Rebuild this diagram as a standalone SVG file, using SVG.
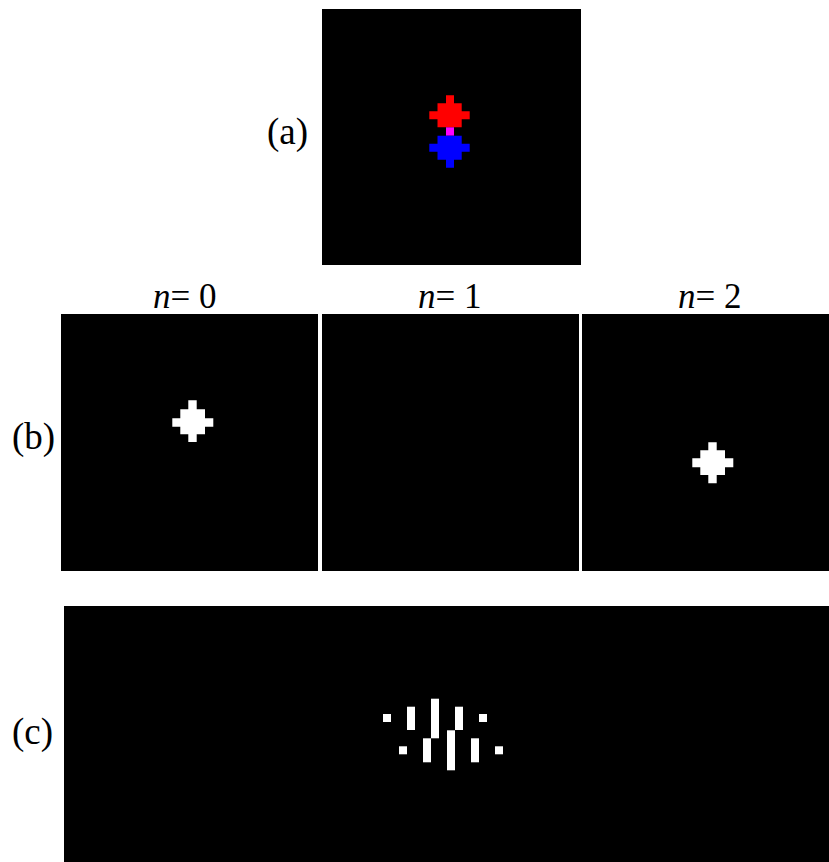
<svg xmlns="http://www.w3.org/2000/svg" width="829" height="862" viewBox="0 0 829 862">
<style>
.panel{fill:#000}
.w{fill:#fff}
.r{fill:#ff0000}
.b{fill:#0000ff}
.m{fill:#ff00ff}
.lbl{font-size:37px;fill:#000}
.ttl{font-size:35px;fill:#000}
</style>
<rect width="829" height="862" fill="#fff"/>
<g id="panel-a">
<rect class="panel" x="322" y="9" width="259" height="256"/>
<path id="red-blob" class="r" d="M446,95.3H454V103.3H461.7V111.3H469.7V119.3H461.7V127.3H437.5V119.3H429.3V111.3H437.5V103.3H446Z"/>
<rect id="overlap" class="m" x="446" y="127.3" width="8" height="8.4"/>
<path id="blue-blob" class="b" d="M437.5,135.7H461.7V143.7H469.7V151.7H461.7V159.7H454V167.7H446V159.7H437.5V151.7H429.3V143.7H437.5Z"/>
<text class="lbl" font-family="Liberation Serif" x="267" y="144">(a)</text>
</g>
<g id="panel-b">
<text class="lbl" font-family="Liberation Serif" x="12" y="449">(b)</text>
<g id="b-n0">
<rect class="panel" x="61" y="314" width="257" height="257"/>
<path class="w" d="M188.3,400.3H196.7V409.3H205V418.3H213.3V426.7H205V434.3H196.7V442H188.3V434.3H180.3V426.7H172.3V418.3H180.3V409.3H188.3Z"/>
<text class="ttl" font-family="Liberation Serif" x="153" y="308"><tspan font-style="italic">n</tspan>= 0</text>
</g>
<g id="b-n1">
<rect class="panel" x="322" y="314" width="257" height="257"/>
<text class="ttl" font-family="Liberation Serif" x="418" y="308"><tspan font-style="italic">n</tspan>= 1</text>
</g>
<g id="b-n2">
<rect class="panel" x="582" y="314" width="247" height="257"/>
<path class="w" d="M708.3,442.3H716.7V450.3H725V458.3H733.3V467.2H725V475H716.7V483.3H708.3V475H700.3V467.2H692.3V458.3H700.3V450.3H708.3Z"/>
<text class="ttl" font-family="Liberation Serif" x="678" y="308"><tspan font-style="italic">n</tspan>= 2</text>
</g>
</g>
<g id="panel-c">
<rect class="panel" x="64" y="606" width="765" height="256"/>
<g class="w">
<rect x="383" y="714" width="8" height="8"/>
<rect x="407" y="706.7" width="8" height="23.3"/>
<rect x="431" y="698.7" width="8" height="39.6"/>
<rect x="455" y="706.7" width="8" height="23.3"/>
<rect x="479" y="714" width="8" height="8"/>
<rect x="399" y="746.3" width="8" height="8"/>
<rect x="423" y="738.3" width="8" height="24"/>
<rect x="447" y="730.3" width="8" height="40"/>
<rect x="471" y="738.3" width="8" height="24"/>
<rect x="495" y="746.3" width="8" height="8"/>
</g>
<text class="lbl" font-family="Liberation Serif" x="12" y="744">(c)</text>
</g>
</svg>
